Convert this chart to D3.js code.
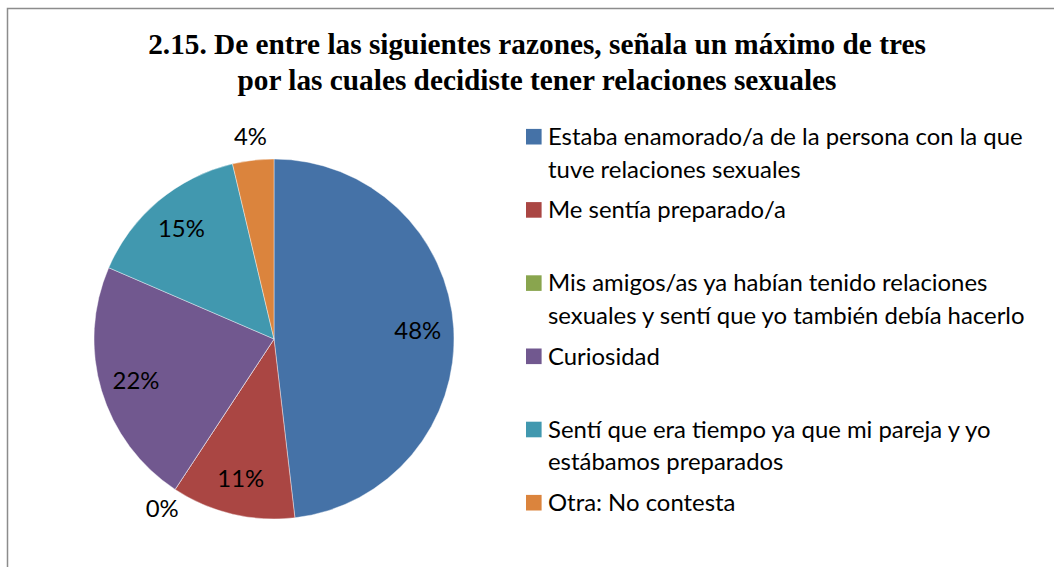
<!DOCTYPE html>
<html>
<head>
<meta charset="utf-8">
<script src="https://cdn.jsdelivr.net/npm/d3@7"></script>
<style>
  body { margin: 0; background: #fff; }
  svg { display: block; }
</style>
</head>
<body>
<script>
// respuestas por razón (n = 27)
const categories = [
  ["Estaba enamorado/a de la persona con la que", "tuve relaciones sexuales"],
  ["Me sentía preparado/a"],
  ["Mis amigos/as ya habían tenido relaciones", "sexuales y sentí que yo también debía hacerlo"],
  ["Curiosidad"],
  ["Sentí que era tiempo ya que mi pareja y yo", "estábamos preparados"],
  ["Otra: No contesta"]
];
const counts = [13, 3, 0, 6, 4, 1];
const colors = ["#4572A7", "#AA4643", "#89A54E", "#71588F", "#4198AF", "#DB843D"];
const titleLines = [
  "2.15. De entre las siguientes razones, señala un máximo de tres",
  "por las cuales decidiste tener relaciones sexuales"
];

const width = 1054, height = 567;
const cx = 274, cy = 339, radius = 180;
const sans = "Lato, 'Liberation Sans', sans-serif";

const svg = d3.select("body").append("svg")
  .attr("width", width).attr("height", height);

svg.append("rect")
  .attr("x", 7.5).attr("y", 8.5)
  .attr("width", width + 10).attr("height", height + 10)
  .attr("fill", "#fff").attr("stroke", "#8c8c8c").attr("stroke-width", 1.5);

// title, sized so the first line spans like the original
const title = svg.append("text")
  .attr("font-family", "'Liberation Serif', 'Times New Roman', serif")
  .attr("font-weight", "bold")
  .attr("font-size", 24)
  .attr("text-anchor", "middle")
  .attr("fill", "#000");
title.selectAll("tspan").data(titleLines).join("tspan")
  .attr("x", 537).attr("y", (d, i) => 54 + i * 36)
  .text(d => d);
const t0 = title.select("tspan").node().getComputedTextLength();
title.attr("font-size", 24 * 778 / t0);

// pie
const total = d3.sum(counts);
const pct = d3.format(".0%");
const pie = d3.pie().sort(null).value(d => d);
const arcs = pie(counts);
const arc = d3.arc().innerRadius(0).outerRadius(radius);
const inLabel = d3.arc().innerRadius(radius * 0.8).outerRadius(radius * 0.8);
const outLabel = d3.arc().innerRadius(radius * 1.13).outerRadius(radius * 1.13);

const g = svg.append("g").attr("transform", `translate(${cx},${cy})`);
g.selectAll("path").data(arcs).join("path")
  .attr("d", arc)
  .attr("fill", (d, i) => colors[i])
  .attr("stroke", "#fff")
  .attr("stroke-width", 0.4);

// legend font size fitted to first legend line
const probe = svg.append("text").attr("font-family", sans).attr("font-size", 20).text(categories[0][0]);
const fs = 20 * 475 / probe.node().getComputedTextLength();
probe.remove();

g.selectAll("text").data(arcs).join("text")
  .attr("font-family", sans)
  .attr("font-size", fs)
  .attr("text-anchor", "middle")
  .attr("fill", "#000")
  .attr("transform", d => {
    const share = d.value / total;
    const p = share < 0.05 ? outLabel.centroid(d) : inLabel.centroid(d);
    return `translate(${p[0]},${p[1]})`;
  })
  .attr("dy", "0.35em")
  .text(d => pct(d.value / total));

// legend
const legend = svg.append("g").attr("transform", "translate(526,136.7)");
const item = legend.selectAll("g").data(categories).join("g")
  .attr("transform", (d, i) => `translate(0,${i * 73.2})`);
item.append("rect")
  .attr("x", 0).attr("y", -7.8)
  .attr("width", 15.6).attr("height", 15.6)
  .attr("fill", (d, i) => colors[i]);
item.append("text")
  .attr("font-family", sans)
  .attr("font-size", fs)
  .attr("fill", "#000")
  .selectAll("tspan").data(d => d).join("tspan")
  .attr("x", 22).attr("y", (d, i) => i * 32.6)
  .attr("dy", "0.35em")
  .text(d => d);
</script>
</body>
</html>
